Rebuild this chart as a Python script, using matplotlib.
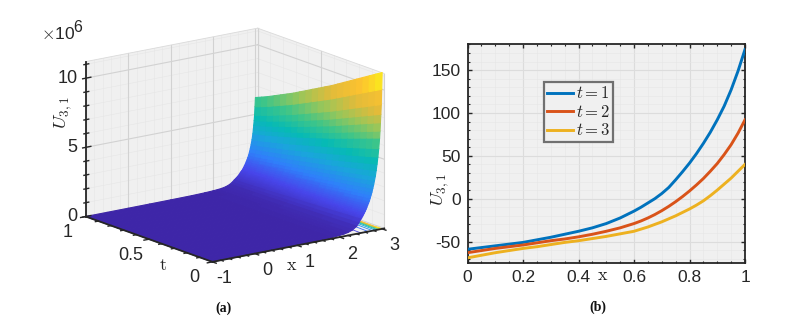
import numpy as np
import matplotlib
matplotlib.use("Agg")
import matplotlib.pyplot as plt
from matplotlib.colors import LinearSegmentedColormap, Normalize
from mpl_toolkits.mplot3d import proj3d
from mpl_toolkits.mplot3d.art3d import Poly3DCollection

# panel (a): surface, in units of 1e6
x_nodes = [-1, -0.5, 0, 0.5, 1, 1.5, 1.8, 2, 2.1, 2.2, 2.3, 2.4, 2.45, 2.5,
           2.52, 2.54, 2.56, 2.58, 2.6, 2.62, 2.64, 2.66, 2.68, 2.7, 2.72, 2.74, 2.76, 2.78, 2.8,
           2.82, 2.84, 2.86, 2.88, 2.9, 2.92, 2.94, 2.95, 2.96, 2.97, 2.98, 2.99, 3]
u_front = [0, 0.001, 0.002, 0.005, 0.012, 0.03, 0.07, 0.12, 0.16, 0.22, 0.33, 0.55, 0.75, 1.0,
           1.08, 1.18, 1.28, 1.39, 1.5, 1.63, 1.77, 1.92, 2.05, 2.2, 2.4, 2.6, 2.8, 3.05, 3.3,
           3.6, 3.9, 4.3, 4.75, 5.25, 5.85, 6.6, 7.1, 7.7, 8.3, 9.0, 10.1, 11.3]
t_nodes = [0, 0.05, 0.1, 0.15, 0.2, 0.25, 0.3, 0.35, 0.4, 0.45, 0.5,
           0.55, 0.6, 0.65, 0.7, 0.75, 0.8, 0.85, 0.9, 0.95, 1]
t_scale = [1.0, 0.975, 0.95, 0.925, 0.90, 0.875, 0.85, 0.825, 0.80, 0.778, 0.755,
           0.733, 0.71, 0.688, 0.665, 0.645, 0.625, 0.605, 0.585, 0.567, 0.55]

x_ticks_3d = [-1, 0, 1, 2, 3]
t_ticks_3d = [0, 0.5, 1]
z_ticks_3d = [0, 5, 10]
x_minor_3d = [-0.8, -0.6, -0.4, -0.2, 0.2, 0.4, 0.6, 0.8, 1.2, 1.4, 1.6, 1.8, 2.2, 2.4, 2.6, 2.8]
t_minor_3d = [0.1, 0.2, 0.3, 0.4, 0.6, 0.7, 0.8, 0.9]
z_minor_3d = [1, 2, 3, 4, 6, 7, 8, 9, 11]

# panel (b): curves
x_b = [0, 0.05, 0.1, 0.15, 0.2, 0.25, 0.3, 0.35, 0.4, 0.45, 0.5, 0.55, 0.6, 0.625, 0.65, 0.675, 0.7,
       0.725, 0.75, 0.775, 0.8, 0.825, 0.85, 0.875, 0.9, 0.925, 0.95, 0.975, 1]
u_t1 = [-59, -57, -55, -53, -51, -48, -45, -41.5, -38, -34, -29, -22.5, -14.5, -10, -5, 0, 6,
        13, 22, 31.5, 41.5, 52.5, 64.5, 77.5, 92, 108, 127, 149, 174]
u_t2 = [-63, -60.5, -58, -56, -54, -51.5, -49, -47, -44.5, -41.5, -38, -34, -29, -26, -22.5, -18.5, -14,
        -9, -3.5, 2.5, 9, 16, 23.5, 32, 41, 51.5, 63, 76.5, 92]
u_t3 = [-69, -66, -63, -60.5, -58, -56, -53.5, -51, -49, -46.5, -44, -41, -38, -35.5, -33, -30, -27,
        -23.5, -20, -16, -12, -7.5, -2.5, 3.5, 10, 17, 24, 32, 40]
legend_labels = ["$t = 1$", "$t = 2$", "$t = 3$"]
line_colors = ["#0072BD", "#D95319", "#EDB120"]

parula = LinearSegmentedColormap.from_list("parula", [
    "#3E26A8", "#4746EB", "#2F80FA", "#1AA5DC", "#06BAB5", "#3CC58A", "#97C65A", "#E1BB3A", "#FDC22F", "#F9FB15"])

plt.rcParams["font.family"] = ["Liberation Sans", "DejaVu Sans"]
plt.rcParams["mathtext.fontset"] = "cm"
INK = "#262626"

W, H = 809, 318
fig = plt.figure(figsize=(W / 100, H / 100), dpi=100)


def rect(left, top, right, bottom):
    return [left / W, 1 - bottom / H, (right - left) / W, (bottom - top) / H]


# ---- (a)
ax3 = fig.add_axes(rect(64.5, -16.5, 396.5, 315.5), projection="3d", proj_type="ortho", computed_zorder=False)
ax3.patch.set_alpha(0)
ax3.view_init(elev=15.3, azim=-126.4)
ax3.set_box_aspect((214, 214, 161))
xlo, xhi, tlo, thi, zlo, zhi = -1, 3.05, 0, 1, 0, 11.2
ax3.set_xlim(xlo, xhi, view_margin=0)
ax3.set_ylim(tlo, thi, view_margin=0)
ax3.set_zlim(zlo, zhi, view_margin=0)
ax3.set_axis_off()

walls = [[(xlo, thi, zlo), (xhi, thi, zlo), (xhi, thi, zhi), (xlo, thi, zhi)],
         [(xhi, tlo, zlo), (xhi, thi, zlo), (xhi, thi, zhi), (xhi, tlo, zhi)],
         [(xlo, tlo, zlo), (xhi, tlo, zlo), (xhi, thi, zlo), (xlo, thi, zlo)]]
ax3.add_collection3d(Poly3DCollection(walls, facecolor="#F0F0F0", edgecolor="none", zorder=1))


def wall_grid(xs, ts, zs, color, lw, z):
    for v in xs:
        ax3.plot([v, v], [thi, thi], [zlo, zhi], color=color, lw=lw, zorder=z)
    for v in ts:
        ax3.plot([xhi, xhi], [v, v], [zlo, zhi], color=color, lw=lw, zorder=z)
    for v in zs:
        ax3.plot([xlo, xhi], [thi, thi], [v, v], color=color, lw=lw, zorder=z)
        ax3.plot([xhi, xhi], [tlo, thi], [v, v], color=color, lw=lw, zorder=z)


wall_grid(x_minor_3d, t_minor_3d, z_minor_3d, "#E6E6E6", 0.4, 2)
wall_grid(x_ticks_3d, t_ticks_3d, z_ticks_3d, "#D2D2D2", 0.8, 3)
ax3.plot([xhi, xhi], [thi, thi], [zlo, zhi], color="#D2D2D2", lw=0.8, zorder=3)
ax3.plot([xlo, xhi], [thi, thi], [zhi, zhi], color="#DADADA", lw=0.6, zorder=3)
ax3.plot([xhi, xhi], [tlo, thi], [zhi, zhi], color="#DADADA", lw=0.6, zorder=3)

X, T = np.meshgrid(x_nodes, t_nodes)
Z = np.outer(t_scale, u_front)
ax3.contour(X, T, Z, levels=[1, 2, 3, 4, 5, 6, 7, 8, 9, 10, 11], zdir="z", offset=0,
            cmap=parula, vmin=0, vmax=11.3, linewidths=0.6, zorder=4)
colours = parula(Normalize(0, 10.6)(Z))
ax3.plot_surface(X, T, Z, facecolors=colours, shade=False, rstride=1, cstride=1,
                 linewidth=0.8, antialiased=True, zorder=5)

# axis lines with ticks
ax3.plot([xlo, xhi], [tlo, tlo], [zlo, zlo], color=INK, lw=1.3, zorder=7)
ax3.plot([xlo, xlo], [tlo, thi], [zlo, zlo], color=INK, lw=1.3, zorder=7)
ax3.plot([xlo, xlo], [thi, thi], [zlo, zhi], color=INK, lw=1.3, zorder=7)
for v in x_ticks_3d + x_minor_3d:
    ax3.plot([v, v], [tlo, tlo - (0.03 if v in x_ticks_3d else 0.018)], [zlo, zlo], color=INK, lw=1, zorder=7)
for v in t_ticks_3d + t_minor_3d:
    ax3.plot([xlo, xlo - (0.12 if v in t_ticks_3d else 0.07)], [v, v], [zlo, zlo], color=INK, lw=1, zorder=7)
for v in z_ticks_3d + z_minor_3d:
    size = 0.12 if v in z_ticks_3d else 0.07
    ax3.plot([xlo - size * 0.6, xlo + size], [thi, thi], [v, v], color=INK, lw=1, zorder=7)

M = ax3.get_proj()


def label3d(s, x, t, z, dx, dy, **kw):
    # dx, dy in pixels from the projected point
    px, py, _ = proj3d.proj_transform(x, t, z, M)
    ax3.annotate(s, xy=(px, py), xytext=(dx * 0.72, dy * 0.72), textcoords="offset points",
                 annotation_clip=False, **kw)


tick_kw = dict(fontsize=13, color=INK, ha="center", va="center")
for v in x_ticks_3d:
    label3d(str(v), v, tlo, zlo, 12, -17, **tick_kw)
for v, s in zip(t_ticks_3d, ["0", "0.5", "1"]):
    label3d(s, xlo, v, zlo, -18, -16, **tick_kw)
for v in z_ticks_3d:
    label3d(str(v), xlo, thi, v, -8, 0, fontsize=13, color=INK, ha="right", va="center")

fig.text(41 / W, 1 - 34 / H, r"$\times$10", fontsize=12.5, color=INK, ha="left", va="center")
fig.text(73.5 / W, 1 - 27 / H, "6", fontsize=11.5, color=INK, ha="left", va="center")
fig.text(63 / W, 1 - 113 / H, r"$U_{3,1}$", fontsize=13.5, color=INK, rotation=90, ha="center", va="center")
fig.text(163 / W, 1 - 265 / H, r"$\mathrm{t}$", fontsize=13, color=INK, ha="center", va="center")
fig.text(292 / W, 1 - 266 / H, r"$\mathrm{x}$", fontsize=13, color=INK, ha="center", va="center")
fig.text(223 / W, 1 - 308 / H, "(a)", family="Liberation Serif", weight="bold", fontsize=10, color="#111111", ha="center", va="center")

# ---- (b)
ax = fig.add_axes(rect(467.5, 43.5, 745, 263))
ax.set_facecolor("#F0F0F0")
for y, color, label in zip([u_t1, u_t2, u_t3], line_colors, legend_labels):
    ax.plot(x_b, y, color=color, lw=2.1, label=label, zorder=3)
ax.set_xlim(0, 1)
ax.set_ylim(-75, 181)
ax.set_xticks([0, 0.2, 0.4, 0.6, 0.8, 1], ["0", "0.2", "0.4", "0.6", "0.8", "1"])
ax.set_yticks([-50, 0, 50, 100, 150], ["-50", "0", "50", "100", "150"])
ax.set_xticks(np.arange(0.05, 1, 0.05), minor=True)
ax.set_yticks(np.arange(-70, 181, 10), minor=True)
ax.grid(True, which="major", color="#DCDCDC", lw=0.8)
ax.grid(True, which="minor", color="#E6E6E6", lw=0.4)
ax.set_axisbelow(True)
ax.tick_params(which="major", direction="in", length=3, width=1, top=True, right=True, labelsize=12.5, labelcolor=INK, color=INK, pad=5)
ax.tick_params(which="minor", direction="in", length=1.6, width=0.8, top=True, right=True, color=INK)
for s in ax.spines.values():
    s.set_linewidth(1.3)
    s.set_color(INK)
leg = ax.legend(loc="upper left", bbox_to_anchor=((544 - 467.5) / 277.5, 1 - (82 - 43.5) / 219.5), fontsize=12,
                frameon=True, fancybox=False, framealpha=1, facecolor="#F0F0F0", edgecolor="#707070",
                borderaxespad=0, borderpad=0.2, labelspacing=0.15, handlelength=1.55, handletextpad=0.15)
leg.get_frame().set_linewidth(1.6)
for text in leg.get_texts():
    text.set_color(INK)
fig.text(440 / W, 1 - 190 / H, r"$U_{3,1}$", fontsize=13.5, color=INK, rotation=90, ha="center", va="center")
fig.text(603 / W, 1 - 275 / H, r"$\mathrm{x}$", fontsize=13, color=INK, ha="center", va="center")
fig.text(597.5 / W, 1 - 307 / H, "(b)", family="Liberation Serif", weight="bold", fontsize=10, color="#111111", ha="center", va="center")

fig.savefig("out.png", dpi=100)
